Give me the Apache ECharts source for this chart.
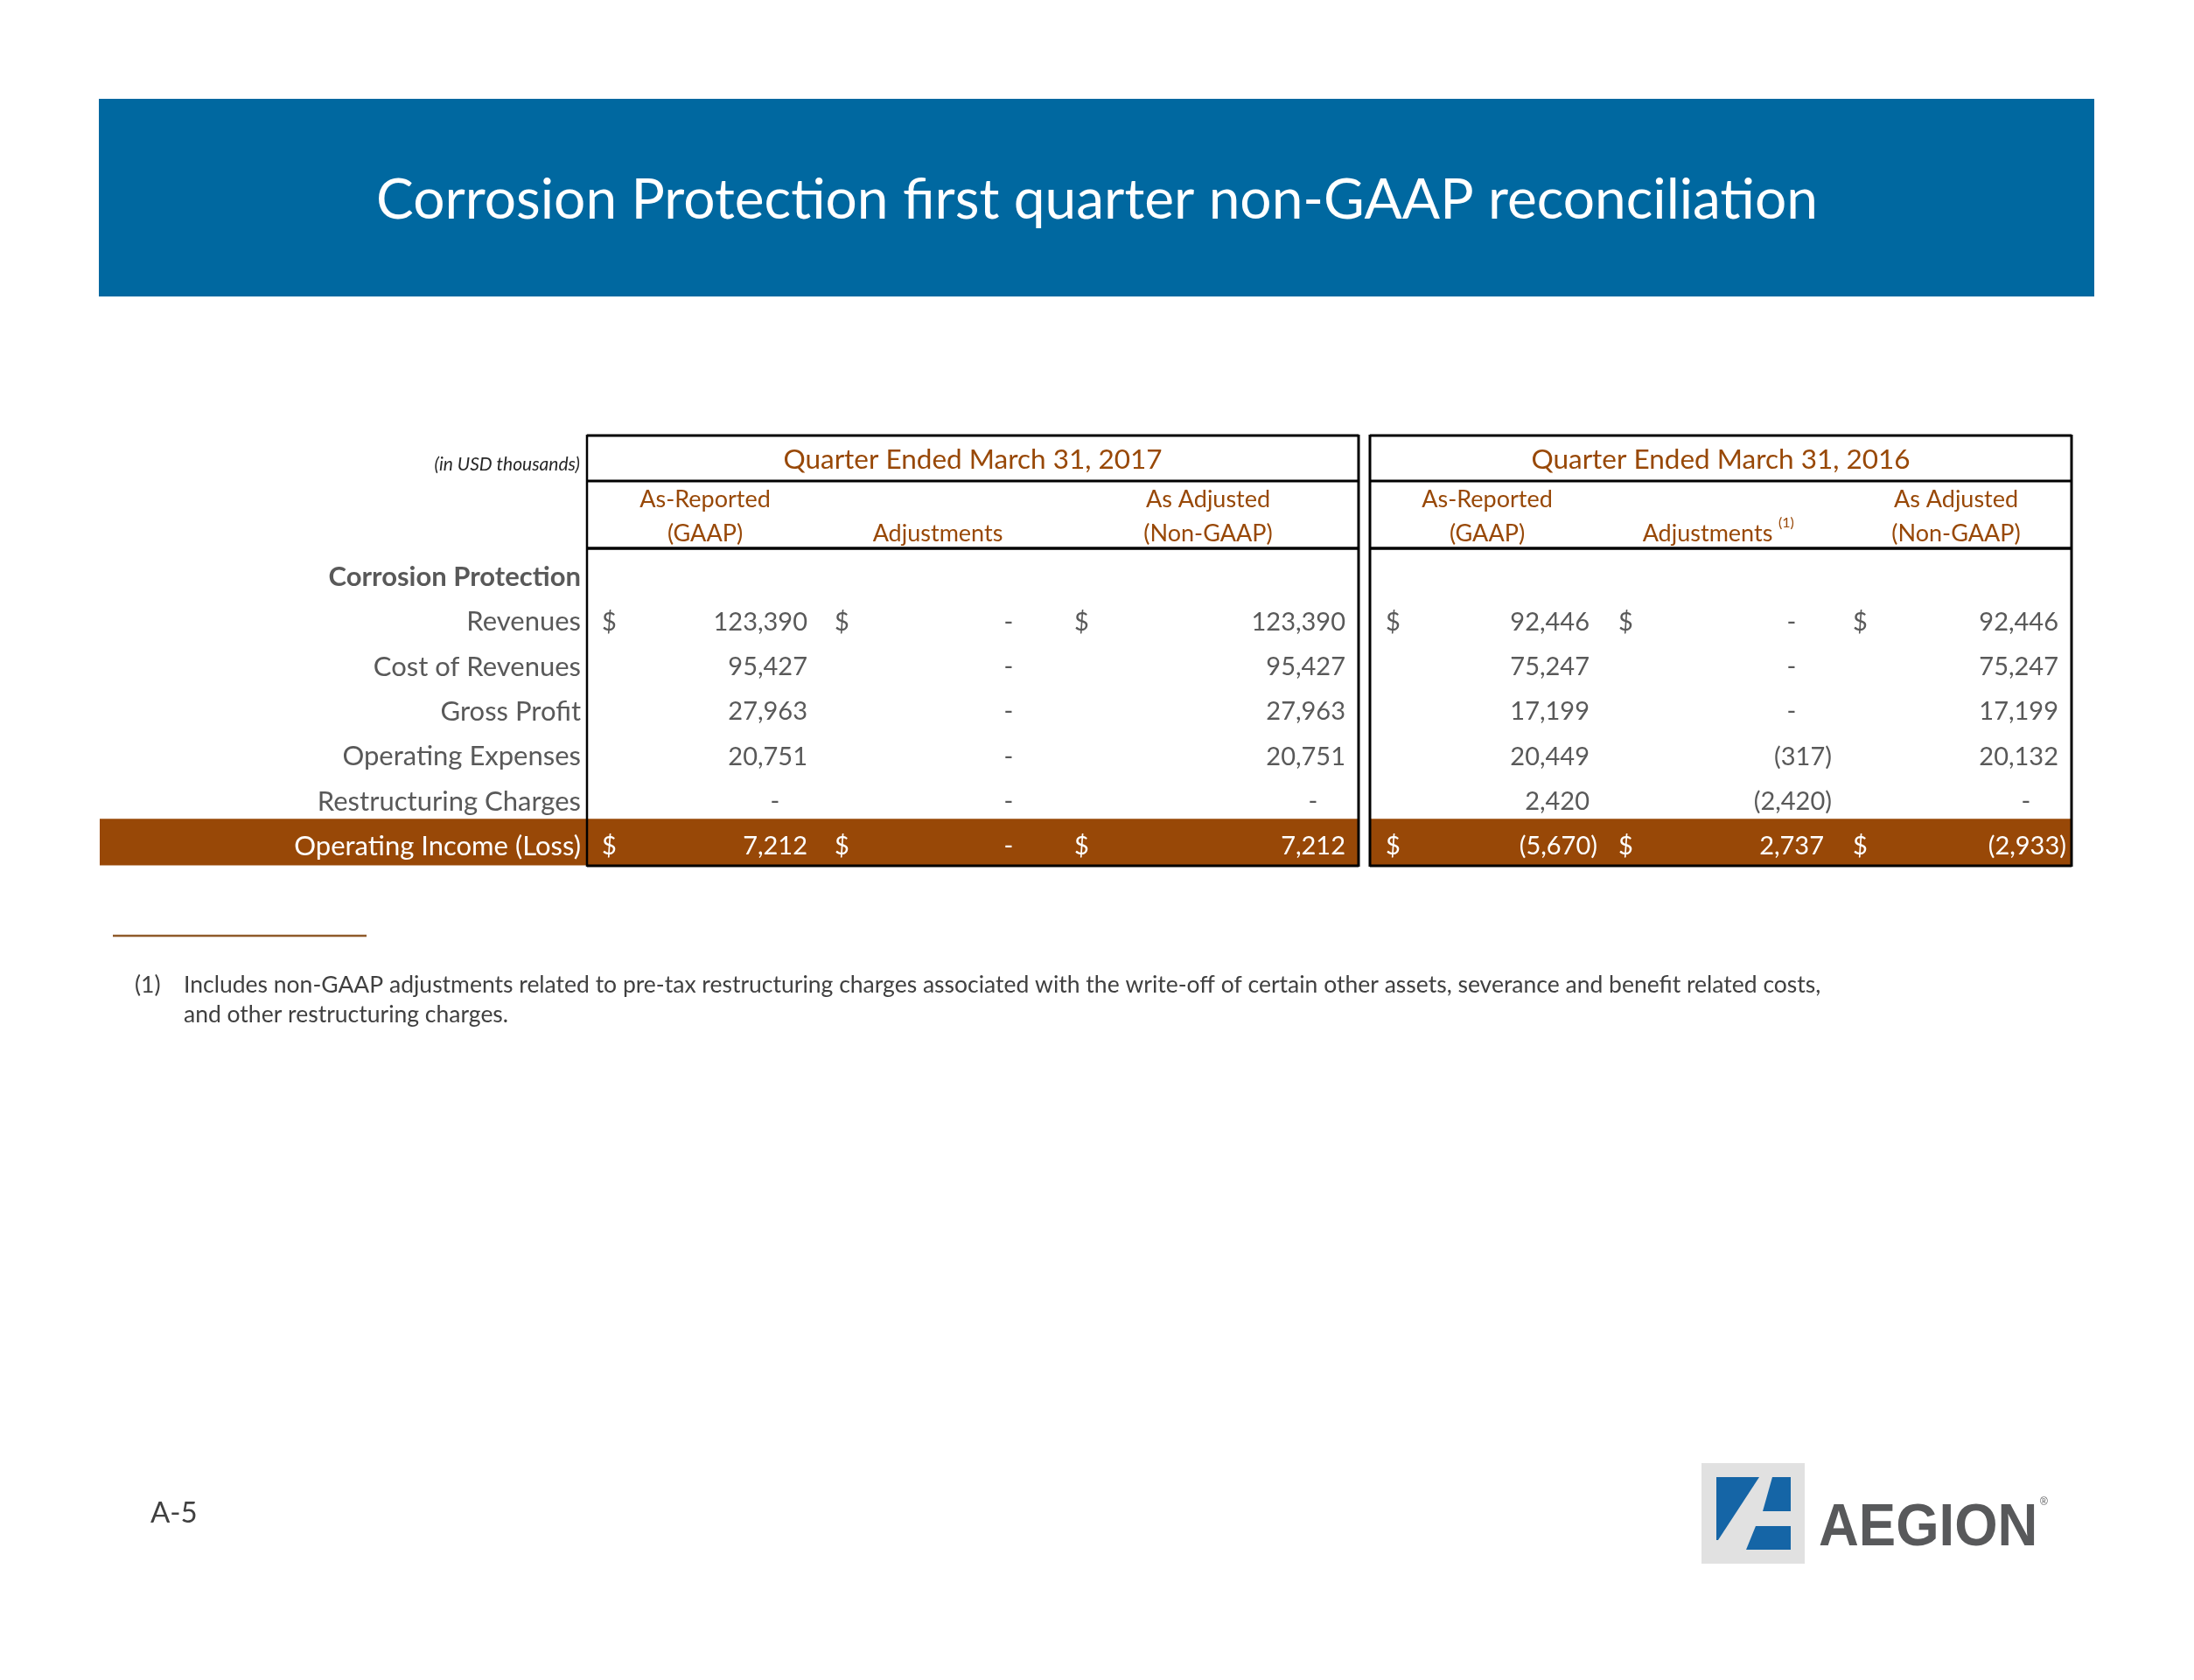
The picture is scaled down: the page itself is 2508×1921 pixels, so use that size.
<!DOCTYPE html>
<html>
<head>
<meta charset="utf-8">
<script src="https://cdn.jsdelivr.net/npm/echarts@6/dist/echarts.min.js"></script>
<style>
  html, body { margin: 0; padding: 0; background: #fff; }
  #main { width: 2508px; height: 1921px; }
</style>
</head>
<body>
<div id="main"></div>
<script>
// ---- data ----
var pageTitle = 'Corrosion Protection first quarter non-GAAP reconciliation';
var unitNote = '(in USD thousands)';
var sectionName = 'Corrosion Protection';
var periods = ['Quarter Ended March 31, 2017', 'Quarter Ended March 31, 2016'];
var colHeadTop = ['As-Reported', '', 'As Adjusted'];
var colHeadBottom = ['(GAAP)', 'Adjustments', '(Non-GAAP)'];
var rowLabels = ['Revenues', 'Cost of Revenues', 'Gross Profit', 'Operating Expenses', 'Restructuring Charges', 'Operating Income (Loss)'];
var reported2017 = [123390, 95427, 27963, 20751, 0, 7212];
var adjust2017 = [0, 0, 0, 0, 0, 0];
var adjusted2017 = [123390, 95427, 27963, 20751, 0, 7212];
var reported2016 = [92446, 75247, 17199, 20449, 2420, -5670];
var adjust2016 = [0, 0, 0, -317, -2420, 2737];
var adjusted2016 = [92446, 75247, 17199, 20132, 0, -2933];
var dollarRows = ['Revenues', 'Operating Income (Loss)'];
var footnoteMark = '(1)';
var footnote = ['Includes non-GAAP adjustments related to pre-tax restructuring charges associated with the write-off of certain other assets, severance and benefit related costs,',
                'and other restructuring charges.'];
var pageNo = 'A-5';
var brandName = 'AEGION';

// ---- layout ----
var columns = [reported2017, adjust2017, adjusted2017, reported2016, adjust2016, adjusted2016];
var numRight = [923, 1190, 1538, 1817, 2085, 2353];
var dollarX = [688, 954, 1228, 1584, 1850, 2118];
var boxes = [[671, 1553], [1566, 2368]];
var headCenter = [[806, 1072, 1381], [1700, 1952, 2236]];
var rowKeys = [sectionName].concat(rowLabels);

var blue = '#0068a0';
var brown = '#984807';
var grey = '#595959';
var FONT = 'Lato';

function fmt(v) {
  if (v === 0) return '-';
  var s = Math.abs(v).toLocaleString('en-US');
  return v < 0 ? '(' + s + ')' : s;
}

function txt(x, y, text, font, fill, align, valign, z) {
  return {
    type: 'text', x: x, y: y, z: z || 10,
    style: {
      text: text, font: font, fill: fill,
      textAlign: align || 'left', align: align || 'left',
      textVerticalAlign: valign || 'middle', verticalAlign: valign || 'middle'
    }
  };
}
function line(x1, y1, x2, y2, w, color) {
  return { type: 'line', z: 100, shape: { x1: x1, y1: y1, x2: x2, y2: y2 },
           style: { stroke: color || '#000', lineWidth: w } };
}

var cellData = [];
columns.forEach(function (col, c) {
  col.forEach(function (v, r) { cellData.push([numRight[c], r + 1, c, r]); });
});
var labelData = rowKeys.map(function (k, i) { return [664, i]; });

var graphics = [];
// banner
graphics.push({ type: 'rect', z: 1, shape: { x: 113, y: 113, width: 2281, height: 226 }, style: { fill: blue } });
graphics.push(txt(1254, 229, pageTitle, '64px ' + FONT, '#ffffff', 'center'));
// headers
graphics.push(txt(663, 531, unitNote, 'italic 21px ' + FONT, '#262626', 'right'));
boxes.forEach(function (b, k) {
  graphics.push(txt((b[0] + b[1]) / 2, 526, periods[k], '31.5px ' + FONT, brown, 'center'));
  for (var j = 0; j < 3; j++) {
    if (colHeadTop[j]) graphics.push(txt(headCenter[k][j], 571, colHeadTop[j], '27px ' + FONT, brown, 'center'));
    graphics.push(txt(headCenter[k][j], 610, colHeadBottom[j], '27px ' + FONT, brown, 'center'));
  }
  graphics.push(line(b[0], 498, b[1], 498, 3));
  graphics.push(line(b[0], 550, b[1], 550, 3));
  graphics.push(line(b[0], 627, b[1], 627, 3.5));
  graphics.push(line(b[0], 990, b[1], 990, 3));
  graphics.push(line(b[0], 497, b[0], 991, k === 0 ? 2.5 : 3));
  graphics.push(line(b[1], 497, b[1], 991, 3));
});
graphics.push(txt(2033, 598, '(1)', '16px ' + FONT, brown, 'left'));
// footnote
graphics.push(line(129, 1070, 419, 1070, 2.5, '#8f5a2a'));
graphics.push(txt(154, 1126, footnoteMark, '26.5px ' + FONT, '#404040', 'left'));
graphics.push(txt(210, 1126, footnote[0], '26.5px ' + FONT, '#404040', 'left'));
graphics.push(txt(210, 1160, footnote[1], '26.5px ' + FONT, '#404040', 'left'));
// page number
graphics.push(txt(172, 1730, pageNo, '33px ' + FONT, '#404040', 'left'));
// logo
graphics.push({ type: 'rect', z: 1, shape: { x: 1945, y: 1673, width: 118, height: 115 }, style: { fill: '#e1e1e1' } });
graphics.push({ type: 'polygon', z: 2, shape: { points: [[1962, 1689], [2011, 1689], [1964, 1761], [1962, 1761]] }, style: { fill: '#1565a6' } });
graphics.push({ type: 'polygon', z: 2, shape: { points: [[2026, 1689], [2047, 1689], [2047, 1728], [2015, 1728]] }, style: { fill: '#1565a6' } });
graphics.push({ type: 'polygon', z: 2, shape: { points: [[2007, 1745], [2047, 1745], [2047, 1772], [1996, 1772]] }, style: { fill: '#1565a6' } });
var brand = txt(2079, 1748, brandName, 'bold 69px "Liberation Sans"', '#58595b', 'left');
brand.scaleX = 0.92;
graphics.push(brand);
graphics.push(txt(2332, 1718, '\u00ae', '12px "Liberation Sans"', '#58595b', 'left'));

var chart = echarts.init(document.getElementById('main'));
var option = {
  animation: false,
  backgroundColor: '#ffffff',
  grid: { left: 0, right: 0, top: 634.5, height: 359 },
  xAxis: { type: 'value', min: 0, max: 2508, show: false },
  yAxis: { type: 'category', data: rowKeys, inverse: true, show: false },
  graphic: { elements: graphics },
  series: [
    {
      // total row band
      type: 'custom', z: 1,
      data: [[0, rowKeys.length - 1]],
      renderItem: function (params, api) {
        var p = api.coord([api.value(0), api.value(1)]);
        var h = api.size([0, 1])[1];
        var top = p[1] - h / 2 - 6;
        var segs = [[114, boxes[0][1]], [boxes[1][0], boxes[1][1]]];
        return {
          type: 'group',
          children: segs.map(function (s) {
            var a = api.coord([s[0], 0])[0], b = api.coord([s[1], 0])[0];
            return { type: 'rect', shape: { x: a, y: top, width: b - a, height: h + 2 }, style: { fill: brown } };
          })
        };
      }
    },
    {
      // row labels
      type: 'custom', z: 3,
      data: labelData,
      renderItem: function (params, api) {
        var i = api.value(1);
        var p = api.coord([api.value(0), i]);
        var bold = i === 0;
        var total = i === rowKeys.length - 1;
        return {
          type: 'text', x: p[0], y: p[1],
          style: {
            text: rowKeys[i], font: (bold ? 'bold 31px ' : '31px ') + FONT,
            fill: total ? '#ffffff' : grey,
            textAlign: 'right', align: 'right', textVerticalAlign: 'middle', verticalAlign: 'middle'
          }
        };
      }
    },
    {
      // cell values
      type: 'custom', z: 3,
      data: cellData,
      renderItem: function (params, api) {
        var c = api.value(2), r = api.value(3);
        var v = columns[c][r];
        var p = api.coord([api.value(0), api.value(1)]);
        var total = r === rowLabels.length - 1;
        var color = total ? '#ffffff' : grey;
        var x = p[0], align = 'right';
        if (v === 0) { x = p[0] - 37; align = 'center'; }
        else if (v < 0) { x = p[0] + 9; }
        var kids = [{
          type: 'text', x: x, y: p[1],
          style: { text: fmt(v), font: '29px ' + FONT, fill: color,
                   textAlign: align, align: align, textVerticalAlign: 'middle', verticalAlign: 'middle' }
        }];
        if (dollarRows.indexOf(rowLabels[r]) >= 0) {
          kids.push({
            type: 'text', x: api.coord([dollarX[c], 0])[0], y: p[1],
            style: { text: '$', font: '29px ' + FONT, fill: color,
                     textAlign: 'left', align: 'left', textVerticalAlign: 'middle', verticalAlign: 'middle' }
          });
        }
        return { type: 'group', children: kids };
      }
    }
  ]
};
chart.setOption(option);
</script>
</body>
</html>
